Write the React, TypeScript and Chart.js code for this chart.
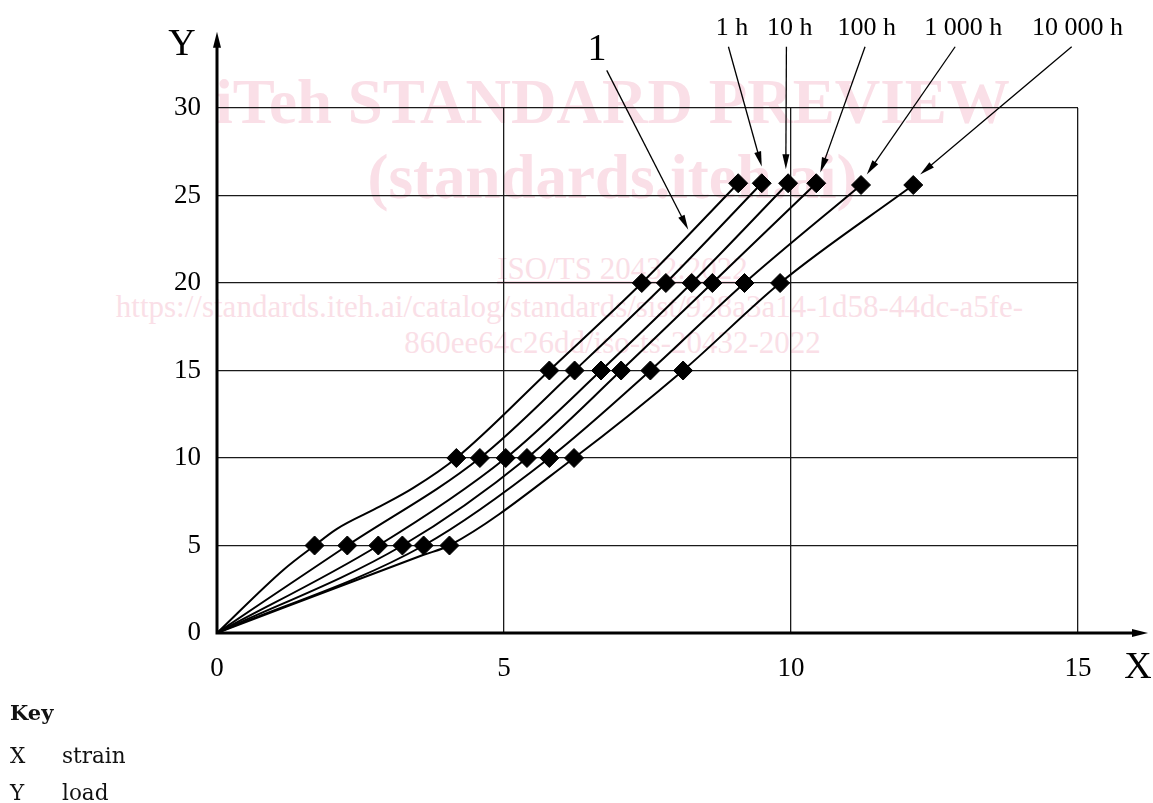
import React, { useEffect, useRef } from "react";
import { Chart, registerables } from "chart.js";

Chart.register(...registerables);

// ---- Data ----
const xTickValues = [0, 5, 10, 15];
const yTickValues = [0, 5, 10, 15, 20, 25, 30];

const seriesNames = ["1", "1 h", "10 h", "100 h", "1 000 h", "10 000 h"];

// curve 1 (short-term)
const curve1X = [0, 1.16, 1.7, 2.09, 2.84, 3.42, 4.17, 5.79, 7.4, 9.08];
const curve1Y = [0, 3.62, 5, 5.95, 7.23, 8.29, 10, 15, 20, 25.7];
const curve1Mark = [0, 0, 1, 0, 0, 0, 1, 1, 1, 1];

// 1 h
const h1X = [0, 2.27, 4.58, 6.23, 7.82, 9.49];
const h1Y = [0, 5, 10, 15, 20, 25.7];
const h1Mark = [0, 1, 1, 1, 1, 1];

// 10 h
const h10X = [0, 2.81, 5.03, 6.69, 8.27, 9.95];
const h10Y = [0, 5, 10, 15, 20, 25.7];
const h10Mark = [0, 1, 1, 1, 1, 1];

// 100 h
const h100X = [0, 3.23, 5.4, 7.04, 8.63, 10.44];
const h100Y = [0, 5, 10, 15, 20, 25.7];
const h100Mark = [0, 1, 1, 1, 1, 1];

// 1 000 h
const h1000X = [0, 3.6, 5.79, 7.55, 9.19, 11.22];
const h1000Y = [0, 5, 10, 15, 20, 25.6];
const h1000Mark = [0, 1, 1, 1, 1, 1];

// 10 000 h
const h10000X = [0, 3.6, 4.05, 6.22, 8.12, 9.81, 12.13];
const h10000Y = [0, 4.47, 5, 10, 15, 20, 25.6];
const h10000Mark = [0, 0, 1, 1, 1, 1, 1];

// callouts (data coordinates)
const calloutText = ["1", "1 h", "10 h", "100 h", "1 000 h", "10 000 h"];
const calloutTextX = [6.62, 8.97, 9.98, 11.32, 13.0, 14.99];
const calloutTextY = [32.77, 34.17, 34.17, 34.17, 34.17, 34.17];
const calloutFromX = [6.79, 8.91, 9.92, 11.29, 12.86, 14.89];
const calloutFromY = [32.15, 33.5, 33.5, 33.5, 33.5, 33.5];
const calloutTipX = [8.21, 9.49, 9.91, 10.51, 11.32, 12.25];
const calloutTipY = [23.05, 26.66, 26.5, 26.32, 26.2, 26.2];

// axis arrow ends (data coordinates)
const axisEndX = 16.22;
const axisEndY = 34.36;

const SERIF = "'Liberation Serif', 'DejaVu Serif', serif";

const seriesX = [curve1X, h1X, h10X, h100X, h1000X, h10000X];
const seriesY = [curve1Y, h1Y, h10Y, h100Y, h1000Y, h10000Y];
const seriesMark = [curve1Mark, h1Mark, h10Mark, h100Mark, h1000Mark, h10000Mark];

function arrowHead(ctx: CanvasRenderingContext2D, fx: number, fy: number, tx: number, ty: number, len: number, half: number) {
  const ang = Math.atan2(ty - fy, tx - fx);
  const bx = tx - Math.cos(ang) * len;
  const by = ty - Math.sin(ang) * len;
  const nx = -Math.sin(ang) * half;
  const ny = Math.cos(ang) * half;
  ctx.beginPath();
  ctx.moveTo(tx, ty);
  ctx.lineTo(bx + nx, by + ny);
  ctx.lineTo(bx - nx, by - ny);
  ctx.closePath();
  ctx.fill();
}

const overlayPlugin = {
  id: "overlay",
  afterDraw(chart: any) {
    const ctx: CanvasRenderingContext2D = chart.ctx;
    const xs = chart.scales.x;
    const ys = chart.scales.y;
    const x0 = xs.getPixelForValue(0);
    const y0 = ys.getPixelForValue(0);
    ctx.save();
    ctx.strokeStyle = "#000";
    ctx.fillStyle = "#000";

    // axes
    const xEnd = xs.getPixelForValue(axisEndX);
    const yEnd = ys.getPixelForValue(axisEndY);
    ctx.lineWidth = 3;
    ctx.beginPath();
    ctx.moveTo(x0, y0);
    ctx.lineTo(xEnd - 10, y0);
    ctx.moveTo(x0, y0 + 1.5);
    ctx.lineTo(x0, yEnd + 10);
    ctx.stroke();
    arrowHead(ctx, x0, y0, xEnd, y0, 16, 4);
    arrowHead(ctx, x0, y0, x0, yEnd, 16, 4);

    // axis titles
    ctx.font = `38px ${SERIF}`;
    ctx.textAlign = "center";
    ctx.textBaseline = "alphabetic";
    ctx.fillText("Y", x0 - 35, yEnd + 23);
    ctx.fillText("X", xEnd - 10, y0 + 45);

    // callouts
    ctx.lineWidth = 1.3;
    for (let i = 0; i < calloutText.length; i++) {
      const tx = xs.getPixelForValue(calloutTextX[i]);
      const ty = ys.getPixelForValue(calloutTextY[i]);
      ctx.font = i === 0 ? `38px ${SERIF}` : `26px ${SERIF}`;
      ctx.fillText(calloutText[i], tx, ty);
      const fx = xs.getPixelForValue(calloutFromX[i]);
      const fy = ys.getPixelForValue(calloutFromY[i]);
      const px = xs.getPixelForValue(calloutTipX[i]);
      const py = ys.getPixelForValue(calloutTipY[i]);
      const ang = Math.atan2(py - fy, px - fx);
      ctx.beginPath();
      ctx.moveTo(fx, fy);
      ctx.lineTo(px - Math.cos(ang) * 8, py - Math.sin(ang) * 8);
      ctx.stroke();
      arrowHead(ctx, fx, fy, px, py, 15, 3.5);
    }
    ctx.restore();
  },
};

export default function App() {
  const canvasRef = useRef<HTMLCanvasElement | null>(null);

  useEffect(() => {
    if (!canvasRef.current) return;
    const datasets = seriesNames.map((name, s) => ({
      label: name,
      data: seriesX[s].map((x, i) => ({ x, y: seriesY[s][i] })),
      showLine: true,
      borderColor: "#000",
      backgroundColor: "#000",
      borderWidth: 2,
      cubicInterpolationMode: "monotone" as const,
      pointStyle: "rectRot" as const,
      pointRadius: seriesMark[s].map((m) => (m ? 9.5 : 0)),
      pointHoverRadius: seriesMark[s].map((m) => (m ? 9.5 : 0)),
      pointBorderWidth: 1,
      pointBackgroundColor: "#000",
      pointBorderColor: "#000",
    }));

    const chart = new Chart(canvasRef.current, {
      type: "scatter",
      data: { datasets },
      options: {
        animation: false,
        responsive: true,
        maintainAspectRatio: false,
        layout: { padding: { left: 0, right: 75, top: 108, bottom: 110 } },
        plugins: { legend: { display: false }, tooltip: { enabled: false } },
        scales: {
          x: {
            type: "linear",
            min: 0,
            max: 15,
            afterBuildTicks: (sc: any) => {
              sc.ticks = xTickValues.map((v) => ({ value: v }));
            },
            afterFit: (sc: any) => {
              sc.height = 60;
            },
            border: { display: false },
            grid: { color: "#1a1a1a", lineWidth: 1.3, drawTicks: false },
            ticks: {
              color: "#000",
              padding: 20,
              maxRotation: 0,
              font: { family: SERIF, size: 27 },
            },
          },
          y: {
            type: "linear",
            min: 0,
            max: 30,
            afterBuildTicks: (sc: any) => {
              sc.ticks = yTickValues.map((v) => ({ value: v }));
            },
            afterFit: (sc: any) => {
              sc.width = 217;
            },
            border: { display: false },
            grid: { color: "#1a1a1a", lineWidth: 1.3, drawTicks: false },
            ticks: {
              color: "#000",
              padding: 16,
              font: { family: SERIF, size: 27 },
            },
          },
        },
      },
      plugins: [overlayPlugin],
    } as any);
    return () => chart.destroy();
  }, []);

  const wm: React.CSSProperties = {
    position: "absolute",
    left: 0,
    width: 1225,
    textAlign: "center",
    color: "#fadfe7",
    fontFamily: SERIF,
    lineHeight: 1,
    whiteSpace: "nowrap",
  };
  const key: React.CSSProperties = {
    position: "absolute",
    fontFamily: "'DejaVu Serif', serif",
    fontSize: 21.5,
    lineHeight: 1,
    color: "#111",
    whiteSpace: "nowrap",
  };

  return (
    <div style={{ position: "absolute", left: 0, top: 0, width: 1153, height: 803, overflow: "hidden", background: "#fff" }}>
      <div style={{ ...wm, top: 71, fontSize: 63, fontWeight: "bold" }}>iTeh STANDARD PREVIEW</div>
      <div style={{ ...wm, top: 146, fontSize: 63, fontWeight: "bold" }}>(standards.iteh.ai)</div>
      <div style={{ ...wm, top: 253, left: 10, fontSize: 31, textDecoration: "underline" }}>ISO/TS 20432:2022</div>
      <div style={{ ...wm, top: 291, fontSize: 31, left: -43 }}>https://standards.iteh.ai/catalog/standards/sist/928a3a14-1d58-44dc-a5fe-</div>
      <div style={{ ...wm, top: 327, fontSize: 31 }}>860ee64c26dd/iso-ts-20432-2022</div>

      <div style={{ position: "absolute", left: 0, top: 0, width: 1153, height: 803 }}>
        <canvas ref={canvasRef} />
      </div>

      <div style={{ ...key, left: 10, top: 702, fontWeight: "bold", fontSize: 21 }}>Key</div>
      <div style={{ ...key, left: 10, top: 745 }}>X</div>
      <div style={{ ...key, left: 62, top: 745 }}>strain</div>
      <div style={{ ...key, left: 10, top: 782 }}>Y</div>
      <div style={{ ...key, left: 62, top: 782 }}>load</div>
    </div>
  );
}
